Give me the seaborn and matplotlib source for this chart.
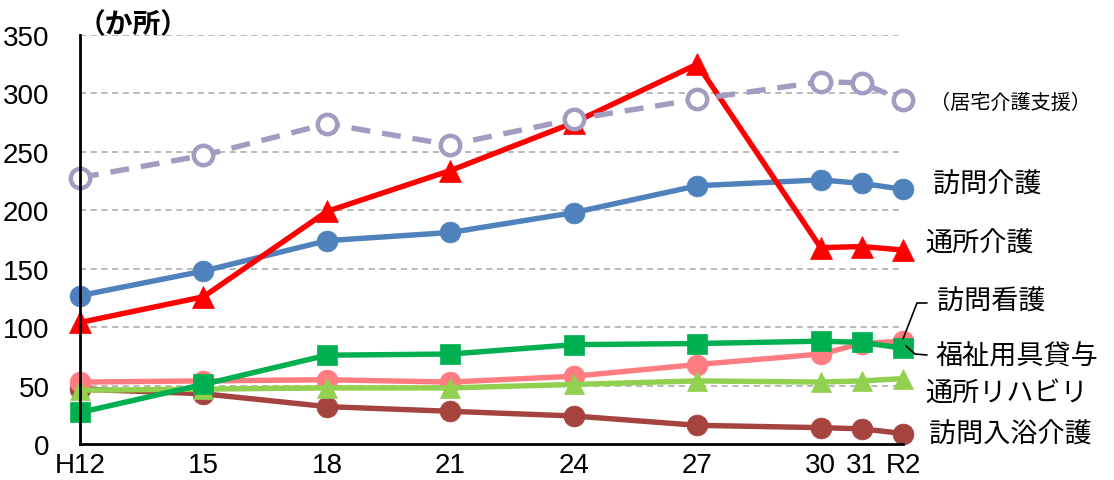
import numpy as np
import pandas as pd
import matplotlib.pyplot as plt
import seaborn as sns

# ── Data ─────────────────────────────────────────────────────────────────────
years = [2000, 2003, 2006, 2009, 2012, 2015, 2018, 2019, 2020]
year_labels = ["H12", "15", "18", "21", "24", "27", "30", "31", "R2"]

kyotaku_shien = [228, 247, 274, 256, 278, 295, 310, 309, 294]   # 居宅介護支援
houmon_kaigo = [127, 148, 174, 181, 198, 221, 226, 223, 218]     # 訪問介護
tsusho_kaigo = [104, 126, 199, 234, 275, 325, 168, 169, 166]     # 通所介護
houmon_kango = [53, 54, 55, 53, 58, 68, 77, 86, 88]              # 訪問看護
fukushi_yogu = [27, 51, 76, 77, 85, 86, 88, 87, 82]              # 福祉用具貸与
tsusho_reha = [46, 47, 48, 48, 51, 54, 53, 54, 56]               # 通所リハビリ
houmon_nyuyoku = [47, 43, 32, 28, 24, 16, 14, 13, 9]             # 訪問入浴介護

df = pd.DataFrame({"year": years})

# ── Style ────────────────────────────────────────────────────────────────────
sns.set_theme(style="white")
plt.rcParams["font.family"] = ["Noto Sans CJK JP", "DejaVu Sans"]
TICK_FONT = ["Liberation Sans Narrow", "Liberation Sans", "DejaVu Sans"]

fig = plt.figure(figsize=(11.14, 4.81), dpi=100)
ax = fig.add_axes([0.0718, 0.0748, 0.7388, 0.8504])

series = [
    # values, color, marker, markersize, linestyle, face
    (houmon_nyuyoku, "#A5433F", "o", 15, "-", None),
    (houmon_kango, "#FF7C80", "o", 15, "-", None),
    (tsusho_reha, "#92D050", "^", 15, "-", None),
    (fukushi_yogu, "#00B050", "s", 15, "-", None),
    (houmon_kaigo, "#4F81BD", "o", 15, "-", None),
    (tsusho_kaigo, "#FF0000", "^", 16, "-", None),
    (kyotaku_shien, "#A59BC0", "o", 14, (0, (3.5, 2.2)), "white"),
]

for vals, color, marker, ms, ls, face in series:
    sns.lineplot(x=df["year"], y=vals, ax=ax, color=color, linewidth=3.9,
                 linestyle=ls, marker=marker, markersize=ms,
                 markerfacecolor=face if face else color,
                 markeredgecolor=color, markeredgewidth=3.2 if face else 0.5,
                 clip_on=False)

ax.set_xlim(2000, 2020)
ax.set_ylim(0, 350)
ax.set_yticks(range(0, 351, 50))
ax.set_xticks(years)
ax.set_xticklabels(year_labels)
ax.set_xlabel("")
ax.set_ylabel("")
ax.tick_params(axis="both", length=0, labelsize=20, colors="black")
ax.tick_params(axis="y", pad=22)
ax.tick_params(axis="x", pad=6)
for lab in ax.get_xticklabels() + ax.get_yticklabels():
    lab.set_family(TICK_FONT)

for y in range(50, 351, 50):
    ax.axhline(y, color="#A6A6A6", linestyle=(0, (4, 3)), lw=1.1, zorder=0)

for side in ["top", "right"]:
    ax.spines[side].set_visible(False)
for side in ["left", "bottom"]:
    ax.spines[side].set_color("black")
    ax.spines[side].set_linewidth(2)

fig.text(78 / 1114, 1 - 25 / 481, "（か所）", fontsize=20,
         fontweight="bold", ha="left", va="center", color="black")

# ── Right-side labels ────────────────────────────────────────────────────────
labels = [
    ("（居宅介護支援）", 930, 103, 14.5),
    ("訪問介護", 933, 185, 19.5),
    ("通所介護", 925, 244, 19.5),
    ("訪問看護", 937, 302, 19.5),
    ("福祉用具貸与", 935, 357, 19.5),
    ("通所リハビリ", 925, 393, 19.5),
    ("訪問入浴介護", 929, 435, 19.5),
]
for txt, px, py, fs in labels:
    fig.text(px / 1114, 1 - py / 481, txt, fontsize=fs, ha="left",
             va="center", color="black")

fig.add_artist(plt.Line2D([927 / 1114, 917 / 1114, 903 / 1114],
                          [1 - 304 / 481, 1 - 304 / 481, 1 - 340 / 481],
                          color="black", lw=1.2))
fig.add_artist(plt.Line2D([906 / 1114, 915 / 1114, 927 / 1114],
                          [1 - 347 / 481, 1 - 355 / 481, 1 - 356 / 481],
                          color="black", lw=1.2))

fig.savefig("out.png", dpi=100)
